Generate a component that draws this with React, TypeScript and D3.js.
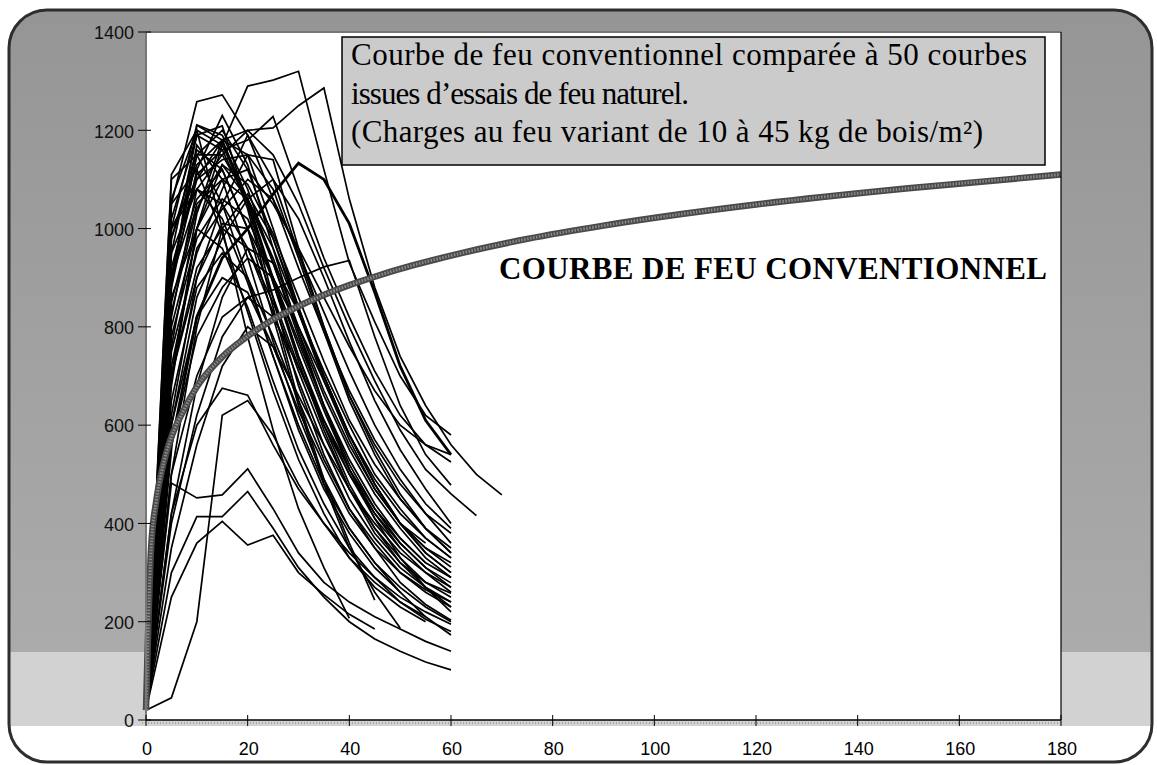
import React, { useEffect, useRef } from "react";
import * as d3 from "d3";

const W = 1157;
const H = 765;

// natural fire tests, one reading every 5 minutes from t = 0
const timeStep = 5;
const fireCurves: number[][] = [
  [20, 1050, 1258, 1272, 1190, 1060, 920, 790, 670, 570, 490, 420, 360],
  [20, 680, 1000, 1170, 1290, 1302, 1320, 1120, 930, 810, 700, 620, 580],
  [20, 820, 1080, 1150, 1200, 1205, 1250, 1286, 1060, 880, 740, 640, 560, 500, 458],
  [20, 920, 1110, 1160, 1180, 1228, 1080, 940, 820, 710, 620, 560, 525],
  [20, 560, 820, 940, 1000, 1070, 1133, 1100, 1010, 870, 720, 610, 540],
  [20, 1000, 1211, 1190, 1080, 930, 780, 640, 520, 430, 360, 310, 279],
  [20, 1110, 1200, 1170, 1060, 890, 730, 590, 470, 380, 320, 280, 258],
  [20, 950, 1190, 1209, 1050, 860, 680, 540, 430, 350, 280, 235, 203],
  [20, 880, 1120, 1230, 1130, 960, 790, 640, 510, 410, 330, 270, 220],
  [20, 900, 1170, 1100, 940, 770, 620, 490, 390, 320, 260, 210, 173],
  [20, 1060, 1200, 1000, 780, 590, 430, 310, 207],
  [20, 980, 1130, 1180, 1040, 840, 650, 490, 360, 244],
  [20, 900, 1060, 1120, 1000, 820, 640, 480, 350, 260, 187],
  [20, 482, 452, 458, 511, 430, 340, 280, 240, 210, 185, 160, 140],
  [20, 300, 414, 414, 465, 390, 310, 250, 200, 165, 140, 118, 102],
  [20, 250, 360, 404, 356, 376, 300, 255, 215, 185],
  [20, 420, 600, 675, 661, 560, 470, 400, 340, 290, 250, 220, 195],
  [20, 45, 200, 620, 650, 580, 480, 400, 330, 280, 240, 205, 180],
  [20, 500, 700, 820, 860, 875, 900, 922, 935, 780, 640, 540, 478],
  [20, 1000, 1100, 1140, 1150, 1140, 960, 800, 660, 560, 480, 420, 380],
  [20, 850, 1050, 1100, 1060, 960, 830, 700, 580, 480, 400, 340, 300],
  [20, 780, 980, 1060, 1020, 900, 760, 630, 510, 420, 350, 300, 260],
  [20, 700, 920, 1000, 960, 850, 710, 580, 470, 390, 330, 280, 250],
  [20, 950, 1080, 1020, 890, 740, 600, 480, 390, 320, 270, 230, 200],
  [20, 1100, 1150, 1050, 900, 740, 590, 470, 380, 310, 260],
  [20, 860, 1000, 960, 840, 690, 550, 440, 350, 290, 240, 210],
  [20, 650, 880, 950, 900, 780, 650, 530, 430, 360, 300, 260, 230],
  [20, 600, 820, 900, 870, 760, 630, 520, 420, 350, 300, 265, 240],
  [20, 750, 950, 1080, 1190, 1100, 950, 800, 660, 550, 460, 390, 340],
  [20, 700, 900, 1050, 1150, 1080, 940, 790, 650, 540, 450, 390, 350],
  [20, 900, 1150, 1200, 1120, 980, 830, 690, 570, 470, 400, 350, 311],
  [20, 980, 1160, 1120, 1000, 860, 720, 600, 500, 420, 360, 310, 270],
  [20, 1020, 1190, 1160, 1050, 890, 740, 610, 500, 410, 350],
  [20, 830, 1040, 1130, 1090, 990, 860, 730, 610, 520, 450, 390, 340],
  [20, 560, 780, 880, 940, 900, 800, 690, 580, 490, 420, 370, 330],
  [20, 400, 620, 780, 860, 820, 720, 610, 510, 430, 370, 320, 290],
  [20, 350, 560, 720, 800, 760, 660, 560, 470, 400, 340, 300, 270],
  [20, 800, 1000, 1100, 1120, 1050, 960, 860, 760, 670, 600, 560, 540],
  [20, 900, 1100, 1180, 1200, 1150, 1050, 920, 800, 690, 590, 510, 460, 416],
  [20, 700, 1000, 1130, 1060, 930, 790, 660, 550, 460, 390, 330, 290],
  [20, 1050, 1120, 990, 830, 670, 530, 420, 330, 270, 230, 200],
  [20, 500, 800, 1000, 1070, 980, 840, 700, 580, 480, 400, 340, 300],
  [20, 620, 900, 1010, 1000, 900, 770, 640, 530, 440, 370, 320],
  [20, 760, 1030, 1180, 1150, 1000, 840, 700, 580, 480, 400, 350, 320],
  [20, 900, 1150, 1150, 1060, 940, 800, 670, 560, 470, 400, 360],
  [20, 420, 680, 860, 960, 930, 830, 710, 600, 500, 430, 370, 330],
  [20, 1000, 1080, 1050, 960, 830, 690, 560, 450, 370, 310, 270, 240],
  [20, 880, 1210, 1180, 1060, 900, 740, 600, 480, 390, 320, 270, 230],
  [20, 720, 960, 1040, 1100, 1060, 950, 830, 710, 600, 510, 440, 390],
  [20, 600, 860, 980, 1060, 1100, 1020, 900, 770, 650, 550, 470, 400],
];
const boldCurve = 4;

// conventional (standard) fire curve
const isoTimes = [0, 1, 2, 3, 4, 5, 7.5, 10, 15, 20, 25, 30, 40, 45, 50, 60, 75, 90, 105, 120, 150, 180];
const isoTemps = [20, 349, 445, 502, 544, 576, 632, 678, 739, 781, 815, 842, 885, 902, 918, 945, 979, 1006, 1029, 1049, 1082, 1110];

const xTicks = [0, 20, 40, 60, 80, 100, 120, 140, 160, 180];
const yTicks = [0, 200, 400, 600, 800, 1000, 1200, 1400];

const boxLines = [
  "Courbe de feu conventionnel comparée à 50 courbes",
  "issues d\u2019essais de feu naturel.",
  "(Charges au feu variant de 10 à 45 kg de bois/m²)",
];
const boxLineWidths = [676, 338, 632];
const isoLabel = "COURBE DE FEU CONVENTIONNEL";

const serif = "'Liberation Serif', 'Times New Roman', serif";
const sans = "'Liberation Sans', Arial, sans-serif";

export default function App() {
  const svgRef = useRef<SVGSVGElement>(null);

  useEffect(() => {
    const svg = d3.select(svgRef.current);
    svg.selectAll("*").remove();

    const left = 146, right = 1061, top = 32, bottom = 720;
    const x = d3.scaleLinear().domain([0, 180]).range([left, right]);
    const y = d3.scaleLinear().domain([0, 1400]).range([bottom, top]);

    const defs = svg.append("defs");
    defs.append("clipPath").attr("id", "frameclip")
      .append("rect").attr("x", 9).attr("y", 10).attr("width", 1143).attr("height", 752).attr("rx", 38);
    const grad = defs.append("linearGradient").attr("id", "bggrad")
      .attr("x1", 0).attr("y1", 0).attr("x2", 0).attr("y2", 1);
    grad.append("stop").attr("offset", "0%").attr("stop-color", "#959595");
    grad.append("stop").attr("offset", "100%").attr("stop-color", "#ababab");

    // frame background (halftone greys)
    const bg = svg.append("g").attr("clip-path", "url(#frameclip)");
    bg.append("rect").attr("x", 0).attr("y", 0).attr("width", W).attr("height", 652).attr("fill", "url(#bggrad)");
    bg.append("rect").attr("x", 0).attr("y", 652).attr("width", W).attr("height", 74).attr("fill", "#d2d2d2");
    bg.append("rect").attr("x", 0).attr("y", 726).attr("width", W).attr("height", 40).attr("fill", "#fff");
    svg.append("rect").attr("x", 9).attr("y", 10).attr("width", 1143).attr("height", 752).attr("rx", 38)
      .attr("fill", "none").attr("stroke", "#2e2e2e").attr("stroke-width", 3);

    // plot area
    svg.append("rect").attr("x", left).attr("y", top).attr("width", right - left).attr("height", bottom - top)
      .attr("fill", "#fff");

    // natural fire curves
    const line = d3.line<number>()
      .x((_, i) => x(i * timeStep))
      .y((d) => y(d));
    svg.append("g")
      .selectAll("path")
      .data(fireCurves)
      .join("path")
      .attr("d", (d) => line(d))
      .attr("fill", "none")
      .attr("stroke", "#000")
      .attr("stroke-width", (_, i) => (i === boldCurve ? 2.8 : 1.7))
      .attr("stroke-linejoin", "miter");

    // conventional curve
    const isoLine = d3.line<number>()
      .x((_, i) => x(isoTimes[i]))
      .y((d) => y(d))
      .curve(d3.curveMonotoneX);
    svg.append("path").attr("d", isoLine(isoTemps)).attr("fill", "none")
      .attr("stroke", "#4a4a4a").attr("stroke-width", 6.5);
    svg.append("path").attr("d", isoLine(isoTemps)).attr("fill", "none")
      .attr("stroke", "#8a8a8a").attr("stroke-width", 3)
      .attr("stroke-dasharray", "1.5 1.5");

    // axes
    svg.append("line").attr("x1", left).attr("x2", left).attr("y1", top).attr("y2", bottom)
      .attr("stroke", "#777").attr("stroke-width", 2);
    svg.append("line").attr("x1", left).attr("x2", right).attr("y1", top).attr("y2", top)
      .attr("stroke", "#777").attr("stroke-width", 2);
    svg.append("line").attr("x1", right).attr("x2", right).attr("y1", top).attr("y2", bottom)
      .attr("stroke", "#000").attr("stroke-width", 1.2);
    svg.append("line").attr("x1", left).attr("x2", right).attr("y1", bottom).attr("y2", bottom)
      .attr("stroke", "#000").attr("stroke-width", 1.5);
    svg.append("line").attr("x1", left - 4).attr("x2", right).attr("y1", bottom + 3).attr("y2", bottom + 3)
      .attr("stroke", "#999").attr("stroke-width", 1.5).attr("stroke-dasharray", "1 2");

    const yAxis = svg.append("g");
    yAxis.selectAll("line").data(yTicks).join("line")
      .attr("x1", left - 8).attr("x2", left + 5)
      .attr("y1", (d) => y(d)).attr("y2", (d) => y(d))
      .attr("stroke", "#000").attr("stroke-width", 1);
    yAxis.selectAll("text").data(yTicks).join("text")
      .attr("x", left - 12).attr("y", (d) => y(d) + 1)
      .attr("dy", "0.35em")
      .attr("text-anchor", "end")
      .attr("font-family", sans)
      .attr("font-size", 18)
      .attr("fill", "#111")
      .text((d) => d);

    const xAxis = svg.append("g");
    xAxis.selectAll("line").data(xTicks).join("line")
      .attr("x1", (d) => x(d)).attr("x2", (d) => x(d))
      .attr("y1", bottom - 5).attr("y2", bottom + 6)
      .attr("stroke", "#000").attr("stroke-width", 1);
    xAxis.selectAll("text").data(xTicks).join("text")
      .attr("x", (d) => x(d) + 1).attr("y", 755)
      .attr("text-anchor", "middle")
      .attr("font-family", sans)
      .attr("font-size", 18)
      .attr("fill", "#000")
      .text((d) => d);

    // text box
    svg.append("rect").attr("x", 342).attr("y", 37).attr("width", 703).attr("height", 128)
      .attr("fill", "#cbcbcb").attr("stroke", "#000").attr("stroke-width", 1.5);
    svg.append("g").selectAll("text").data(boxLines).join("text")
      .attr("x", 351).attr("y", (_, i) => 65 + i * 38.5)
      .attr("font-family", serif)
      .attr("font-size", 31)
      .attr("fill", "#000")
      .attr("textLength", (_, i) => boxLineWidths[i])
      .attr("lengthAdjust", "spacing")
      .text((d) => d);

    svg.append("text").attr("x", 499).attr("y", 279)
      .attr("font-family", serif)
      .attr("font-weight", "bold")
      .attr("font-size", 31)
      .attr("textLength", 548)
      .attr("lengthAdjust", "spacing")
      .attr("fill", "#000")
      .text(isoLabel);
  }, []);

  return (
    <svg
      ref={svgRef}
      width={W}
      height={H}
      style={{ position: "absolute", left: 0, top: 0, display: "block", background: "#fff" }}
    />
  );
}
